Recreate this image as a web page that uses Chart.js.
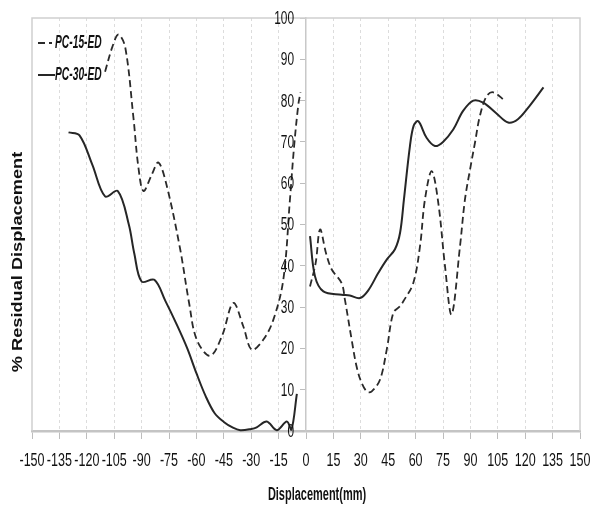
<!DOCTYPE html>
<html>
<head>
<meta charset="utf-8">
<script src="https://cdn.jsdelivr.net/npm/chart.js@4/dist/chart.umd.min.js"></script>
<style>
  html, body { margin: 0; padding: 0; background: #ffffff; }
  #wrap { position: relative; width: 592px; height: 505px; }
</style>
</head>
<body>
<div id="wrap"><canvas id="chart"></canvas></div>
<script>
// Residual displacement (%) against displacement (mm), two specimens,
// each measured on the negative and the positive side of the cycle.
const seriesNames = ['PC-15-ED', 'PC-30-ED'];

const pc15NegX = [-110, -106, -102.7, -99, -94.5, -91.8, -89, -84.5, -80.8, -76.2, -69, -64, -59.8, -52.5, -46, -39.8, -34.3, -29.7, -23.4, -17.9, -12.4, -8.8, -6.5, -4.2, -3];
const pc15NegY = [87, 93, 96, 93, 76, 64, 58.1, 62, 65, 59.3, 44.3, 31, 22.1, 18.2, 23, 31, 25.3, 19.7, 22.1, 26.9, 36.7, 56, 69, 79, 82];

const pc15PosX = [2.2, 5.3, 7.7, 11, 14.1, 19.5, 21.3, 25, 27.7, 30.5, 33.5, 36, 40.5, 44.2, 47.8, 51.4, 53.3, 58.7, 62.4, 65.1, 68.8, 72.4, 76.1, 79.7, 84.3, 87, 89.8, 92.5, 95.2, 98.9, 102.5, 108.9];
const pc15PosY = [35, 40.7, 48.8, 43, 39.1, 35.8, 31.8, 22.1, 15.6, 11.6, 9.5, 9.6, 12.4, 19.7, 28.6, 30.2, 31.4, 35.8, 44.7, 56, 62.9, 55.3, 39.9, 28.2, 44.7, 56, 63.3, 69.8, 76.3, 81.1, 82, 80];

const pc30NegX = [-130, -124, -117, -110, -103, -97, -94, -90, -83, -77, -71, -65, -60, -55, -50, -45, -40, -36, -30, -27, -21.5, -16, -10.5, -8, -5];
const pc30NegY = [72.3, 71.6, 64.5, 56.8, 58.1, 50, 43, 36.2, 36.6, 31.5, 26, 20, 14, 8.5, 4.3, 2.2, 0.8, 0.2, 0.5, 0.9, 2.3, 0.2, 2.3, 0.3, 9];

const pc30PosX = [2.2, 4.9, 9.5, 19.5, 24, 29.6, 34, 39.6, 44.2, 48.7, 51.5, 53.6, 56.9, 59, 61.5, 66, 70.6, 75, 80.6, 86, 91.6, 97, 104, 110.7, 116, 122, 130];
const pc30PosY = [47.2, 37.5, 33.8, 33, 32.8, 32.2, 34, 38.3, 41.5, 44, 48, 56, 69, 74, 75, 71, 69, 70, 73, 77.5, 80, 79.5, 77, 74.7, 75.5, 78.5, 83.2];

const xMin = -150, xMax = 150, xStep = 15;
const yMin = 0, yMax = 100, yStep = 10;

const xTitle = 'Displacement(mm)';
const yTitle = '% Residual Displacement';

const sans = "'Liberation Sans', Arial, sans-serif";
const ink = '#111111';

const toPoints = (xs, ys) => xs.map((x, i) => ({ x: x, y: ys[i] }));

const dashedStyle = { borderColor: '#2a2a2a', borderWidth: 1.8, borderDash: [7, 4] };
const solidStyle = { borderColor: '#262626', borderWidth: 2, borderDash: [] };

function lineSet(label, pts, style) {
  return Object.assign({
    label: label,
    data: pts,
    showLine: true,
    tension: 0.35,
    pointRadius: 0,
    pointHoverRadius: 0,
    fill: false,
    clip: false
  }, style);
}

const datasets = [
  lineSet(seriesNames[0], toPoints(pc15NegX, pc15NegY), dashedStyle),
  lineSet(seriesNames[0], toPoints(pc15PosX, pc15PosY), dashedStyle),
  lineSet(seriesNames[1], toPoints(pc30NegX, pc30NegY), solidStyle),
  lineSet(seriesNames[1], toPoints(pc30PosX, pc30PosY), solidStyle)
];

// Condensed-width text: the glyphs are squeezed horizontally by sx.
function narrowText(ctx, text, x, y, font, sx, align) {
  ctx.save();
  ctx.translate(x, y);
  ctx.scale(sx, 1);
  ctx.font = font;
  ctx.textAlign = align;
  ctx.textBaseline = 'middle';
  ctx.fillText(text, 0, 0);
  ctx.restore();
}

// Plot frame, tick labels, in-plot legend and the two axis titles.
const decorations = {
  id: 'decorations',
  beforeDatasetsDraw(chart) {
    const { ctx, chartArea: a } = chart;
    ctx.save();
    ctx.strokeStyle = '#d0d0d0';
    ctx.lineWidth = 1.5;
    ctx.beginPath();
    ctx.moveTo(a.left, a.bottom);
    ctx.lineTo(a.left, a.top);
    ctx.lineTo(a.right, a.top);
    ctx.lineTo(a.right, a.bottom);
    ctx.stroke();
    ctx.restore();
  },
  afterDraw(chart) {
    const { ctx, chartArea: a } = chart;
    const xs = chart.scales.x, ys = chart.scales.y;
    ctx.save();
    ctx.fillStyle = ink;

    // x tick labels
    xs.ticks.forEach(t => {
      narrowText(ctx, String(t.value), xs.getPixelForValue(t.value), a.bottom + 30,
        "19px " + sans, 0.66, 'center');
    });

    // y tick labels, left of the axis at x = 0
    const yAxisX = xs.getPixelForValue(0);
    ys.ticks.forEach(t => {
      narrowText(ctx, String(t.value), yAxisX - 12, ys.getPixelForValue(t.value) + 1,
        "18px " + sans, 0.66, 'right');
    });

    // legend
    const entries = [
      { ds: chart.data.datasets[0], y: 43, x0: 38, x1: 52 },
      { ds: chart.data.datasets[2], y: 75, x0: 38, x1: 55 }
    ];
    entries.forEach(e => {
      ctx.save();
      ctx.strokeStyle = e.ds.borderColor;
      ctx.lineWidth = e.ds.borderWidth;
      ctx.setLineDash(e.ds.borderDash);
      ctx.beginPath();
      ctx.moveTo(e.x0, e.y);
      ctx.lineTo(e.x1, e.y);
      ctx.stroke();
      ctx.restore();
      narrowText(ctx, e.ds.label, 55, e.y, "italic bold 19px " + sans, 0.54, 'left');
    });

    // x title
    narrowText(ctx, xTitle, 317, 495, "bold 18px " + sans, 0.61, 'center');

    // y title
    ctx.save();
    ctx.translate(18, 262);
    ctx.rotate(-Math.PI / 2);
    ctx.scale(1.3, 1);
    ctx.font = "bold 14px " + sans;
    ctx.textAlign = 'center';
    ctx.textBaseline = 'middle';
    ctx.fillText(yTitle, 0, 0);
    ctx.restore();

    ctx.restore();
  }
};

const edgeOrZero = v => v === xMin || v === xMax || v === 0;

new Chart(document.getElementById('chart'), {
  type: 'scatter',
  data: { datasets: datasets },
  options: {
    responsive: true,
    maintainAspectRatio: false,
    animation: false,
    events: [],
    layout: { padding: { left: 32, right: 12, top: 18, bottom: 0 } },
    plugins: {
      legend: { display: false },
      tooltip: { enabled: false }
    },
    scales: {
      x: {
        type: 'linear',
        min: xMin,
        max: xMax,
        afterFit(scale) {
          scale.height = 74;
          scale.paddingLeft = 0;
          scale.paddingRight = 0;
        },
        ticks: { stepSize: xStep, display: false, autoSkip: false },
        grid: {
          display: true,
          drawOnChartArea: true,
          drawTicks: true,
          tickLength: 8,
          tickColor: '#bdbdbd',
          lineWidth: 1,
          color: c => (c.tick && edgeOrZero(c.tick.value)) ? 'rgba(0,0,0,0)' : '#dcdcdc'
        },
        border: { display: true, color: '#c4c4c4', width: 2.5, dash: [3, 3] }
      },
      y: {
        type: 'linear',
        position: { x: 0 },
        min: yMin,
        max: yMax,
        ticks: { stepSize: yStep, display: false },
        grid: {
          display: true,
          drawOnChartArea: false,
          drawTicks: true,
          tickLength: 5,
          tickColor: '#bdbdbd'
        },
        border: { display: true, color: '#c8c8c8', width: 1.5 }
      }
    }
  },
  plugins: [decorations]
});
</script>
</body>
</html>
